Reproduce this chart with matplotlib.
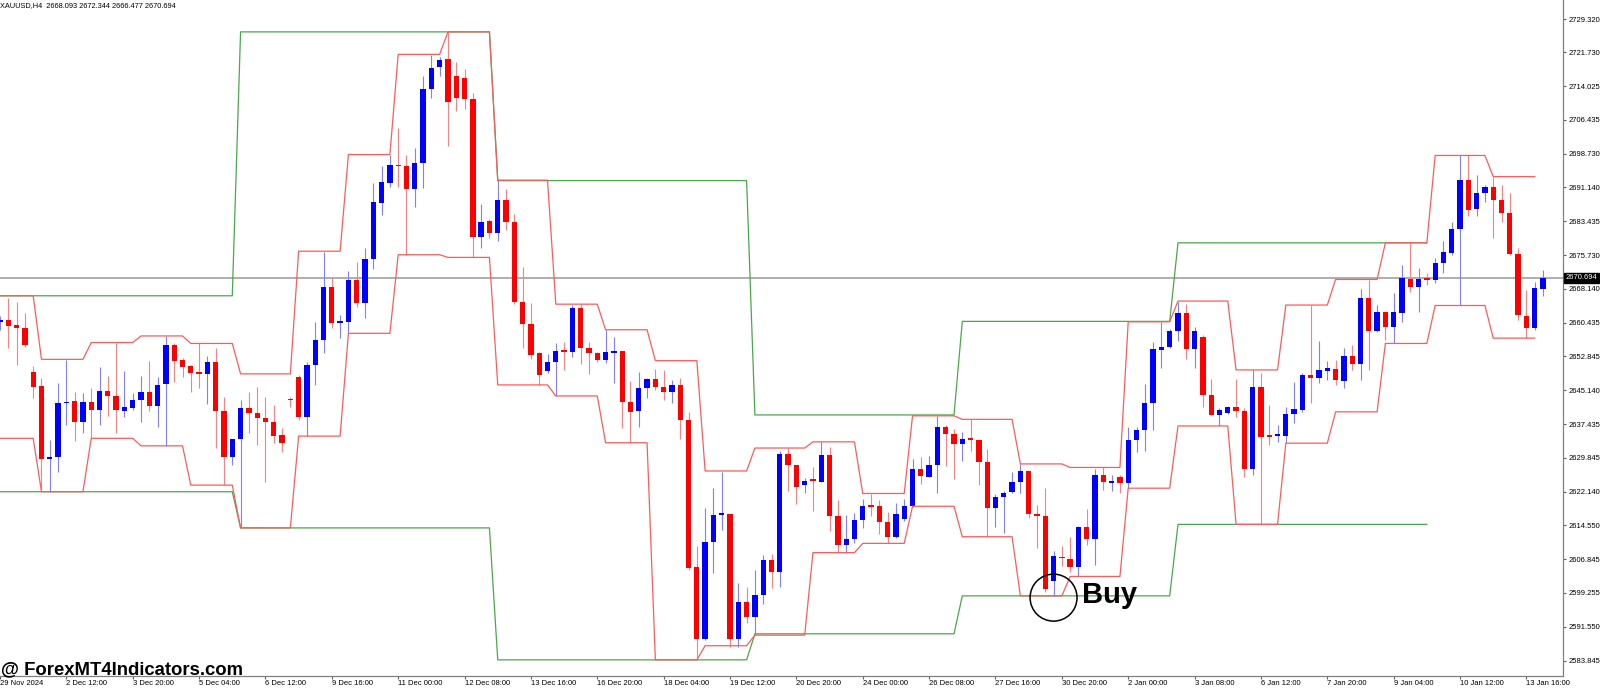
import matplotlib
matplotlib.use('Agg')
import matplotlib.pyplot as plt
import matplotlib.transforms as mtransforms
from matplotlib.patches import Ellipse
import numpy as np

plt.rcParams['font.family'] = ['Liberation Sans', 'DejaVu Sans']

# XAUUSD H4 candles, oldest first
opens = [2660.7, 2661.0, 2660.0, 2659.2, 2649.4, 2646.2, 2629.6, 2630.1, 2642.2, 2642.8,
         2637.9, 2642.6, 2640.7, 2645.0, 2644.0, 2640.6, 2641.2, 2643.0, 2644.8, 2641.6,
         2646.5, 2655.4, 2652.1, 2650.7, 2649.0, 2648.9, 2651.6, 2640.6, 2630.1, 2634.1,
         2641.1, 2640.0, 2638.8, 2637.9, 2635.1, 2643.2, 2648.1, 2639.1, 2650.9, 2656.6,
         2668.5, 2660.4, 2660.7, 2670.2, 2664.9, 2674.9, 2687.7, 2692.2, 2696.2, 2695.9,
         2690.7, 2696.8, 2713.4, 2718.4, 2720.2, 2716.5, 2716.0, 2711.2, 2679.9, 2683.6,
         2680.9, 2688.3, 2683.3, 2665.1, 2660.2, 2653.6, 2649.6, 2651.7, 2654.2, 2653.8,
         2663.9, 2654.8, 2653.7, 2652.1, 2653.7, 2654.1, 2642.6, 2640.6, 2645.7, 2647.8,
         2646.0, 2644.9, 2646.4, 2638.5, 2605.1, 2588.8, 2610.7, 2616.9, 2617.2, 2588.8,
         2597.3, 2593.9, 2598.8, 2606.7, 2604.0, 2630.7, 2628.3, 2623.7, 2624.8, 2624.3,
         2630.5, 2616.7, 2610.1, 2611.4, 2615.8, 2619.0, 2618.9, 2615.4, 2612.0, 2616.0,
         2619.0, 2627.3, 2625.6, 2628.2, 2636.9, 2635.3, 2633.0, 2634.2, 2633.9, 2629.0,
         2618.5, 2620.9, 2622.2, 2624.4, 2626.9, 2617.1, 2616.7, 2602.0, 2607.5, 2607.0,
         2605.1, 2614.1, 2611.4, 2626.0, 2624.1, 2625.5, 2624.1, 2633.9, 2636.2, 2642.4,
         2654.3, 2655.1, 2658.7, 2662.6, 2654.5, 2657.3, 2644.1, 2639.6, 2640.0, 2641.5,
         2640.6, 2627.3, 2645.9, 2634.8, 2634.8, 2634.8, 2639.8, 2640.7, 2648.7, 2647.9,
         2649.6, 2650.1, 2647.3, 2653.0, 2651.2, 2666.1, 2658.6, 2662.9, 2659.6, 2662.6,
         2670.4, 2668.6, 2670.4, 2670.2, 2674.0, 2676.4, 2681.7, 2692.8, 2686.3, 2690.0,
         2691.3, 2688.2, 2685.4, 2676.1, 2662.0, 2659.2, 2668.093]
highs = [2662.0, 2666.2, 2665.3, 2662.6, 2650.7, 2648.0, 2633.9, 2646.8, 2652.1, 2644.7,
         2644.5, 2645.7, 2650.4, 2648.4, 2656.0, 2649.6, 2644.5, 2648.4, 2651.8, 2648.1,
         2657.5, 2655.8, 2652.4, 2650.9, 2655.8, 2653.0, 2654.7, 2643.7, 2634.2, 2643.0,
         2644.9, 2646.0, 2643.7, 2641.9, 2636.6, 2643.7, 2648.7, 2651.7, 2660.7, 2676.6,
         2670.9, 2662.3, 2672.3, 2674.3, 2677.4, 2692.2, 2695.9, 2698.5, 2704.6, 2698.5,
         2700.0, 2716.3, 2721.2, 2720.8, 2726.4, 2719.5, 2718.0, 2712.5, 2687.3, 2683.9,
         2692.8, 2690.7, 2685.1, 2673.2, 2664.9, 2653.9, 2653.4, 2655.8, 2656.2, 2664.4,
         2664.7, 2656.2, 2653.9, 2658.9, 2657.3, 2654.1, 2647.4, 2649.4, 2647.9, 2650.0,
         2649.8, 2647.6, 2648.0, 2640.3, 2609.8, 2618.5, 2623.0, 2626.7, 2617.2, 2601.5,
         2600.7, 2604.5, 2607.9, 2608.1, 2631.5, 2632.0, 2628.3, 2625.3, 2627.7, 2633.5,
         2632.4, 2620.3, 2617.0, 2617.3, 2620.5, 2621.7, 2620.3, 2617.7, 2619.7, 2620.5,
         2629.6, 2630.1, 2630.3, 2639.4, 2637.3, 2636.4, 2635.7, 2638.6, 2633.9, 2631.8,
         2621.7, 2622.4, 2626.7, 2628.5, 2626.9, 2619.2, 2623.0, 2608.8, 2609.9, 2612.0,
         2614.4, 2618.2, 2627.3, 2627.7, 2626.0, 2626.0, 2636.8, 2636.9, 2646.6, 2656.2,
         2660.7, 2659.0, 2665.3, 2664.7, 2659.6, 2657.7, 2647.7, 2641.1, 2641.6, 2647.7,
         2641.1, 2649.8, 2649.0, 2641.9, 2637.3, 2641.5, 2647.1, 2649.0, 2664.5, 2656.4,
         2651.8, 2652.1, 2654.7, 2655.5, 2668.1, 2670.2, 2664.4, 2663.0, 2667.3, 2673.6,
         2678.6, 2672.8, 2671.7, 2675.1, 2679.1, 2683.4, 2698.4, 2698.4, 2694.0, 2691.7,
         2693.6, 2691.7, 2690.0, 2677.4, 2667.9, 2669.8, 2672.344]
lows = [2658.9, 2654.7, 2650.9, 2655.1, 2643.4, 2622.6, 2622.2, 2626.7, 2637.3, 2633.8,
        2635.6, 2634.3, 2637.3, 2639.4, 2635.4, 2639.2, 2640.7, 2637.9, 2640.6, 2636.8,
        2632.6, 2647.1, 2648.3, 2644.9, 2645.7, 2642.1, 2632.0, 2623.7, 2628.3, 2614.0,
        2635.4, 2632.8, 2624.3, 2633.3, 2631.3, 2641.3, 2638.5, 2634.8, 2646.4, 2653.6,
        2659.2, 2657.0, 2658.1, 2664.0, 2661.5, 2672.6, 2684.9, 2691.2, 2691.3, 2675.9,
        2686.7, 2691.0, 2711.4, 2716.3, 2700.6, 2708.5, 2709.0, 2675.3, 2677.5, 2679.6,
        2679.1, 2681.4, 2664.7, 2654.8, 2652.3, 2646.4, 2649.0, 2643.9, 2649.8, 2652.7,
        2651.2, 2648.9, 2651.7, 2651.3, 2646.8, 2636.6, 2633.3, 2636.9, 2643.4, 2645.3,
        2643.0, 2642.4, 2634.1, 2604.5, 2584.1, 2588.5, 2603.7, 2613.5, 2587.1, 2587.1,
        2592.5, 2589.7, 2596.8, 2600.3, 2600.7, 2622.4, 2619.4, 2622.0, 2617.9, 2624.3,
        2613.2, 2608.4, 2608.4, 2610.5, 2613.9, 2616.7, 2612.6, 2610.5, 2611.7, 2615.6,
        2618.8, 2624.0, 2625.5, 2622.0, 2628.0, 2625.0, 2629.2, 2631.5, 2623.7, 2612.0,
        2614.3, 2612.9, 2622.0, 2621.8, 2616.2, 2609.4, 2599.5, 2598.6, 2605.4, 2604.1,
        2603.0, 2610.1, 2605.6, 2622.6, 2622.4, 2622.0, 2623.0, 2631.3, 2631.5, 2636.2,
        2650.2, 2654.7, 2656.4, 2652.2, 2650.2, 2641.3, 2639.6, 2637.1, 2639.8, 2639.2,
        2625.5, 2626.0, 2614.8, 2632.8, 2633.4, 2633.2, 2637.7, 2640.3, 2642.2, 2646.8,
        2647.6, 2646.4, 2645.7, 2649.8, 2647.6, 2649.8, 2658.3, 2656.6, 2655.8, 2660.7,
        2667.5, 2663.0, 2669.1, 2669.4, 2671.7, 2675.9, 2664.5, 2684.7, 2684.7, 2687.9,
        2679.6, 2683.4, 2675.9, 2661.1, 2657.0, 2658.9, 2666.477]
closes = [2661.0, 2659.8, 2659.2, 2655.5, 2646.0, 2629.6, 2630.1, 2642.2, 2642.6, 2637.9,
          2642.6, 2640.7, 2645.0, 2643.9, 2640.7, 2641.3, 2643.0, 2644.8, 2641.6, 2646.4,
          2655.4, 2651.9, 2650.5, 2649.1, 2648.9, 2651.6, 2640.6, 2630.0, 2634.1, 2641.1,
          2640.0, 2638.8, 2637.9, 2634.8, 2633.3, 2642.9, 2639.2, 2650.9, 2656.6, 2668.7,
          2660.4, 2660.7, 2670.2, 2664.9, 2674.9, 2687.8, 2692.3, 2696.2, 2695.9, 2690.9,
          2696.8, 2713.4, 2718.2, 2720.0, 2710.6, 2711.5, 2711.3, 2680.0, 2683.4, 2680.9,
          2688.3, 2683.4, 2665.1, 2660.2, 2653.2, 2648.7, 2651.7, 2654.2, 2653.9, 2663.9,
          2654.7, 2653.6, 2652.1, 2653.9, 2654.0, 2642.5, 2640.3, 2645.7, 2647.8, 2646.0,
          2644.9, 2646.4, 2638.5, 2604.9, 2588.8, 2610.7, 2616.9, 2617.2, 2588.8, 2597.2,
          2593.9, 2598.8, 2606.7, 2604.0, 2630.7, 2628.2, 2623.2, 2624.6, 2624.6, 2630.5,
          2616.6, 2610.1, 2611.4, 2615.8, 2619.0, 2618.7, 2615.4, 2612.0, 2617.1, 2619.0,
          2627.3, 2625.8, 2628.2, 2636.8, 2635.3, 2633.0, 2634.1, 2633.9, 2629.0, 2618.5,
          2620.9, 2622.0, 2624.4, 2626.9, 2617.2, 2616.7, 2600.1, 2607.6, 2607.1, 2605.1,
          2614.3, 2611.4, 2626.0, 2624.3, 2624.7, 2624.1, 2633.9, 2636.2, 2642.4, 2654.5,
          2655.1, 2658.7, 2662.6, 2654.5, 2658.7, 2644.1, 2639.6, 2640.7, 2641.5, 2640.6,
          2627.3, 2646.0, 2634.7, 2634.6, 2635.1, 2639.8, 2640.9, 2648.7, 2647.9, 2649.8,
          2650.2, 2647.6, 2653.0, 2651.2, 2666.1, 2658.6, 2662.9, 2659.6, 2662.9, 2670.6,
          2668.6, 2670.4, 2670.2, 2674.0, 2676.5, 2681.7, 2692.9, 2686.0, 2690.0, 2691.3,
          2688.2, 2685.4, 2676.1, 2662.3, 2659.2, 2668.4, 2670.694]

# channel indicator, stored as (first bar, level) steps
red_upper = [(0, 2666.6), (5, 2652.2), (11, 2656.0), (17, 2657.5), (23, 2655.8), (29, 2648.9),
             (36, 2676.7), (42, 2698.6), (48, 2721.3), (54, 2726.4), (60, 2692.8), (67, 2664.7),
             (73, 2658.9), (79, 2651.9), (85, 2626.9), (91, 2632.1), (98, 2633.5), (104, 2621.8),
             (110, 2639.4), (116, 2638.6), (123, 2628.5), (129, 2627.7), (136, 2660.7),
             (142, 2665.4), (149, 2649.8), (155, 2664.5), (161, 2670.3), (167, 2678.6),
             (173, 2698.4), (180, 2693.6)]
red_lower = [(0, 2634.3), (5, 2622.2), (11, 2634.3), (17, 2632.6), (23, 2623.7), (29, 2614.0),
             (36, 2634.8), (42, 2658.1), (48, 2675.9), (54, 2675.3), (60, 2646.4), (67, 2643.9),
             (73, 2633.3), (79, 2584.1), (85, 2587.3), (91, 2589.7), (98, 2608.4), (104, 2610.5),
             (110, 2618.9), (116, 2612.0), (123, 2598.6), (129, 2603.0), (136, 2623.0),
             (142, 2637.1), (149, 2614.8), (155, 2633.2), (161, 2640.3), (167, 2655.8),
             (173, 2664.4), (180, 2657.0)]
red_last = 185
green_upper = [(0, 2666.6), (29, 2726.4), (60, 2692.7), (91, 2639.6), (116, 2660.8), (142, 2678.6)]
green_lower = [(0, 2622.2), (29, 2614.0), (60, 2584.1), (91, 2590.0), (116, 2598.6), (142, 2614.8)]
green_last = 172

price_ticks = [2729.320, 2721.730, 2714.025, 2706.435, 2698.730, 2691.140, 2683.435,
               2675.730, 2668.140, 2660.435, 2652.845, 2645.140, 2637.435, 2629.845,
               2622.140, 2614.550, 2606.845, 2599.255, 2591.550, 2583.845]
date_labels = ['29 Nov 2024', '2 Dec 12:00', '3 Dec 20:00', '5 Dec 04:00', '6 Dec 12:00',
               '9 Dec 16:00', '11 Dec 00:00', '12 Dec 08:00', '13 Dec 16:00', '16 Dec 20:00',
               '18 Dec 04:00', '19 Dec 12:00', '20 Dec 20:00', '24 Dec 00:00', '26 Dec 08:00',
               '27 Dec 16:00', '30 Dec 20:00', '2 Jan 00:00', '3 Jan 08:00', '6 Jan 12:00',
               '7 Jan 20:00', '9 Jan 04:00', '10 Jan 12:00', '13 Jan 16:00']
signal_bar = 127


def expand(runs, last):
    vals = np.full(last + 1, np.nan)
    ends = [r[0] for r in runs[1:]] + [last + 1]
    for (s, v), e in zip(runs, ends):
        vals[s:e] = v
    return vals


o = np.array(opens)
h = np.array(highs)
l = np.array(lows)
c = np.array(closes)
idx = np.arange(len(o))
up = c >= o

fig = plt.figure(figsize=(16, 6.88), dpi=100)
ax = fig.add_axes([0, 12 / 688, 1563 / 1600, 676 / 688])
ax.set_xlim(0.196, 188.41)
ax.set_ylim(2580.442, 2733.626)

# last price line
ax.axhline(c[-1], color='#a8a8a8', lw=1.3, zorder=1)

ax.vlines(idx[up], l[up], h[up], color='#7f7fff', lw=0.8, zorder=2)
ax.vlines(idx[~up], l[~up], h[~up], color='#ff7f7f', lw=0.8, zorder=2)
bot = np.minimum(o, c)
hgt = np.maximum(np.abs(c - o), 0.4)
ax.bar(idx[up], hgt[up], bottom=bot[up], width=0.64, color='#0000ff', lw=0, zorder=3)
ax.bar(idx[~up], hgt[~up], bottom=bot[~up], width=0.64, color='#ff0000', lw=0, zorder=3)

for runs in (green_upper, green_lower):
    ax.plot(np.arange(green_last + 1), expand(runs, green_last), color='#4aa84a', lw=0.9, zorder=4)
for runs in (red_upper, red_lower):
    ax.plot(np.arange(red_last + 1), expand(runs, red_last), color='#ff5a5a', lw=0.9, zorder=4)

# buy signal mark
ax.add_patch(Ellipse((signal_bar, l[signal_bar] - 0.4), 5.66, 10.65, fill=False,
                     ec='black', lw=1.1, zorder=5))
ax.text(signal_bar + 3.4, l[signal_bar] - 1.6, 'Buy', fontsize=21, fontweight='bold',
        va='baseline', ha='left', zorder=6)

for side in ('top', 'left'):
    ax.spines[side].set_visible(False)
for side in ('right', 'bottom'):
    ax.spines[side].set_color('#808080')
    ax.spines[side].set_linewidth(0.9)

ax.yaxis.tick_right()
ax.set_yticks(price_ticks)
ax.set_yticklabels([f'{v:.3f}' for v in price_ticks])
ax.tick_params(axis='y', length=2.5, width=0.8, pad=1.2, labelsize=5.5, color='#606060')
ax.set_xticks(idx[::8])
ax.set_xticklabels(date_labels, ha='left')
ax.tick_params(axis='x', length=2.0, width=0.8, pad=0.8, labelsize=5.5, color='#606060')

trans = mtransforms.blended_transform_factory(ax.transAxes, ax.transData)
ax.text(1.0015, c[-1], f'{c[-1]:.3f}', transform=trans, color='white', fontsize=5.5,
        va='center', ha='left', clip_on=False,
        bbox=dict(boxstyle='square,pad=0.2', fc='black', ec='black'))

fig.text(0.5 / 1600, 1 - 5.7 / 688,
         f'XAUUSD,H4  {o[-1]:.3f} {h[-1]:.3f} {l[-1]:.3f} {c[-1]:.3f}',
         fontsize=5.3, va='center', ha='left')
fig.text(1 / 1600, 14 / 688, '@ ForexMT4Indicators.com', fontsize=13.3,
         fontweight='bold', va='baseline', ha='left')

fig.savefig('out.png', dpi=100, facecolor='white')
